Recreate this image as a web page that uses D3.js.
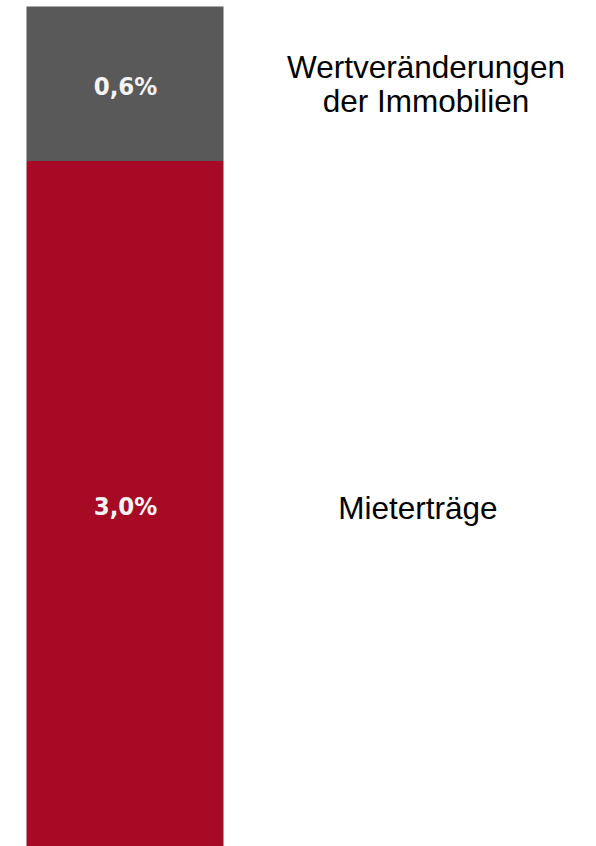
<!DOCTYPE html>
<html>
<head>
<meta charset="utf-8">
<script src="https://cdn.jsdelivr.net/npm/d3@7"></script>
<style>
  html, body { margin: 0; padding: 0; background: #fff; }
  svg { display: block; }
</style>
</head>
<body>
<div id="chart"></div>
<script>
// Data (stacked from bottom to top)
const categories = ["Mieterträge", "Wertveränderungen der Immobilien"];
const categoryLines = [["Mieterträge"], ["Wertveränderungen", "der Immobilien"]];
const values = [3.0, 0.6];
const valueLabels = ["3,0%", "0,6%"];
const colors = ["#a60a24", "#595959"];

const W = 596, H = 846;
const svg = d3.select("#chart").append("svg")
  .attr("width", W).attr("height", H);

// Scales
const x = d3.scaleBand().domain(["Rendite"]).range([26.5, 223.5]).padding(0);
const y = d3.scaleLinear().domain([0, 3.6]).range([933.5, 6.5]);

// Stack
let acc = 0;
const segs = values.map((v, i) => {
  const s = { i, y0: acc, y1: acc + v, v };
  acc += v;
  return s;
});

const g = svg.append("g");

g.selectAll("rect.seg").data(segs).enter().append("rect")
  .attr("class", "seg")
  .attr("x", x("Rendite"))
  .attr("width", x.bandwidth())
  .attr("y", d => y(d.y1))
  .attr("height", d => y(d.y0) - y(d.y1))
  .attr("fill", d => colors[d.i]);

// visible centre of each segment
const visCenter = d => (y(d.y1) + Math.min(y(d.y0), H)) / 2;

// value labels
g.selectAll("text.val").data(segs).enter().append("text")
  .attr("class", "val")
  .attr("x", x("Rendite") + x.bandwidth() / 2 + 0.5)
  .attr("y", d => visCenter(d) + 11.5)
  .attr("text-anchor", "middle")
  .attr("font-family", "'DejaVu Sans', Verdana, sans-serif")
  .attr("font-stretch", "condensed")
  .attr("font-weight", "bold")
  .attr("font-size", 25.5)
  .attr("fill", "#f4f4f4")
  .text(d => valueLabels[d.i]);

// category labels on the right
const lh = 34;
const catG = g.selectAll("text.cat").data(segs).enter().append("text")
  .attr("class", "cat")
  .attr("text-anchor", "middle")
  .attr("font-family", "'Liberation Sans', Arial, sans-serif")
  .attr("font-size", 31.5)
  .attr("fill", "#000");

catG.each(function(d) {
  const lines = categoryLines[d.i];
  const c = visCenter(d);
  const first = c + 11 - (lines.length - 1) * lh / 2 + (lines.length === 1 ? 4 : 0);
  d3.select(this).selectAll("tspan").data(lines).enter().append("tspan")
    .attr("x", 422 + (lines.length > 1 ? 4 : -4))
    .attr("y", (l, k) => first + k * lh)
    .text(l => l);
});
</script>
</body>
</html>
